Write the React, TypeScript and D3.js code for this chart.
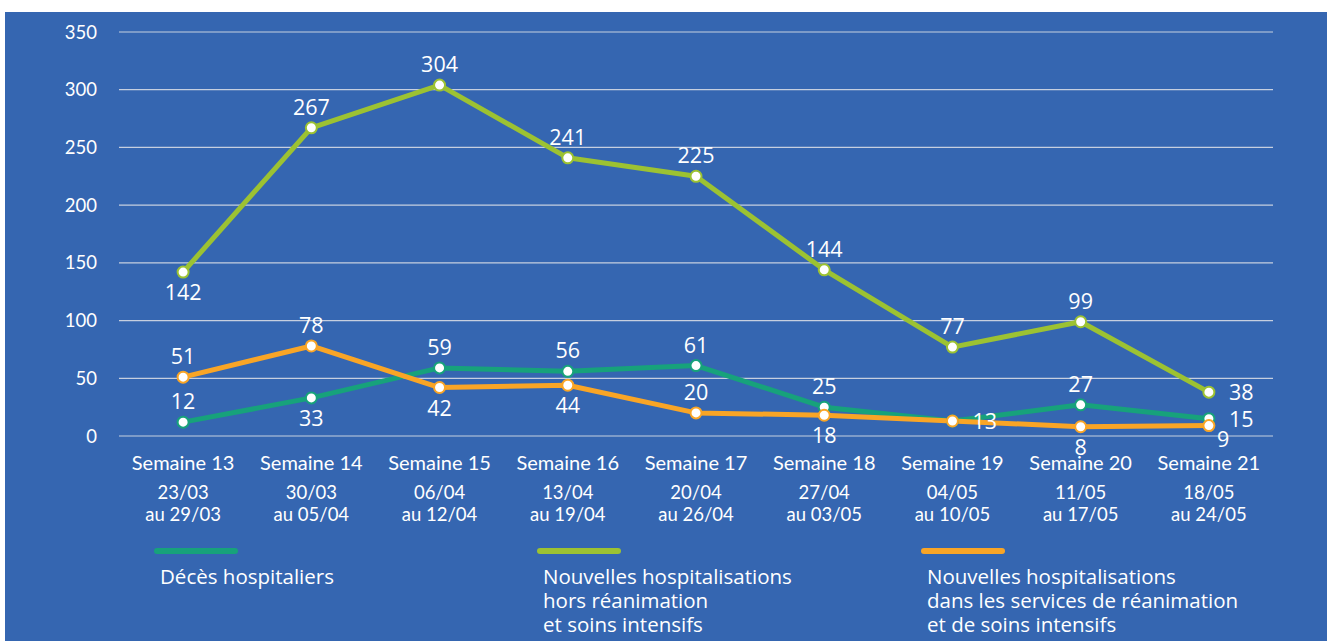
import React from 'react';
import * as d3 from 'd3';

const weeks = ['Semaine 13', 'Semaine 14', 'Semaine 15', 'Semaine 16', 'Semaine 17', 'Semaine 18', 'Semaine 19', 'Semaine 20', 'Semaine 21'];
const dateFrom = ['23/03', '30/03', '06/04', '13/04', '20/04', '27/04', '04/05', '11/05', '18/05'];
const dateTo = ['au 29/03', 'au 05/04', 'au 12/04', 'au 19/04', 'au 26/04', 'au 03/05', 'au 10/05', 'au 17/05', 'au 24/05'];

const deces = [12, 33, 59, 56, 61, 25, 13, 27, 15];
const horsRea = [142, 267, 304, 241, 225, 144, 77, 99, 38];
const rea = [51, 78, 42, 44, 20, 18, 13, 8, 9];

// where each data label sits: a = above, b = below, r = right, n = none, br = below right
const decesPos = ['a', 'b', 'a', 'a', 'a', 'a', 'n', 'a', 'r'];
const horsReaPos = ['b', 'a', 'a', 'a', 'a', 'a', 'a', 'a', 'r'];
const reaPos = ['a', 'a', 'b', 'b', 'a', 'b', 'r', 'b', 'br'];

const yTicks = [0, 50, 100, 150, 200, 250, 300, 350];

const series = [
  { name: ['Décès hospitaliers'], values: deces, pos: decesPos, color: '#17a27b', lx: 157 },
  { name: ['Nouvelles hospitalisations', 'hors réanimation', 'et soins intensifs'], values: horsRea, pos: horsReaPos, color: '#9cc232', lx: 540 },
  { name: ['Nouvelles hospitalisations', 'dans les services de réanimation', 'et de soins intensifs'], values: rea, pos: reaPos, color: '#f9a526', lx: 924 },
];

const W = 1327;
const H = 641;
const BG = '#3566b1';
const labelFont = "'Open Sans', sans-serif";
const axisFont = "Lato, 'Open Sans', sans-serif";

export default function App() {
  const x = d3.scaleBand<string>().domain(weeks).range([119, 1273]);
  const y = d3.scaleLinear().domain([0, 350]).range([436, 32]);
  const cx = (i: number) => (x(weeks[i]) || 0) + x.bandwidth() / 2;
  const line = d3.line<number>().x((_, i) => cx(i)).y(d => y(d));

  const labelXY = (p: string, i: number, v: number) => {
    const px = cx(i);
    const py = y(v);
    if (p === 'a') return { x: px, y: py - 13, anchor: 'middle' };
    if (p === 'b') return { x: px, y: py + 28, anchor: 'middle' };
    if (p === 'r') return { x: px + 20, y: py + 8, anchor: 'start' };
    return { x: px + 8, y: py + 21, anchor: 'start' };
  };

  return (
    <svg width={W} height={H} style={{ position: 'absolute', left: 0, top: 0, display: 'block' }}>
      <rect x={0} y={0} width={W} height={H} fill="#ffffff" />
      <rect x={5} y={12} width={W - 5} height={H - 12} fill={BG} />

      {yTicks.map(t => (
        <g key={t}>
          <line x1={119} x2={1273} y1={y(t)} y2={y(t)} stroke="#c6cfe0" strokeWidth={1.2} />
          <text x={97} y={y(t) + 6.5} textAnchor="end" fill="#fff" fontSize={18.5} fontFamily={axisFont}>{t}</text>
        </g>
      ))}

      {weeks.map((w, i) => (
        <g key={w} fill="#fff" fontFamily={axisFont} textAnchor="middle">
          <text x={cx(i)} y={470} fontSize={20}>{w}</text>
          <text x={cx(i)} y={499} fontSize={18.5}>{dateFrom[i]}</text>
          <text x={cx(i)} y={521} fontSize={18.5}>{dateTo[i]}</text>
        </g>
      ))}

      {series.map(s => (
        <path key={s.color} d={line(s.values) || ''} fill="none" stroke={s.color} strokeWidth={5} strokeLinejoin="round" />
      ))}
      {series.map(s => (
        <g key={s.color + 'm'}>
          {s.values.map((v, i) => (
            <circle key={i} cx={cx(i)} cy={y(v)} r={5.5} fill="#fff" stroke={s.color} strokeWidth={2} />
          ))}
        </g>
      ))}
      {series.map(s => (
        <g key={s.color + 'l'} fill="#fff" fontFamily={labelFont} fontSize={21.5}>
          {s.values.map((v, i) => {
            if (s.pos[i] === 'n') return null;
            const l = labelXY(s.pos[i], i, v);
            return <text key={i} x={l.x} y={l.y} textAnchor={l.anchor}>{v}</text>;
          })}
        </g>
      ))}

      {series.map(s => (
        <g key={s.color + 'lg'}>
          <line x1={s.lx} x2={s.lx + 78} y1={551} y2={551} stroke={s.color} strokeWidth={6} strokeLinecap="round" />
          {s.name.map((n, k) => (
            <text key={k} x={s.lx + 3} y={584 + k * 24} fill="#fff" fontFamily={labelFont} fontSize={20.5}>{n}</text>
          ))}
        </g>
      ))}
    </svg>
  );
}
